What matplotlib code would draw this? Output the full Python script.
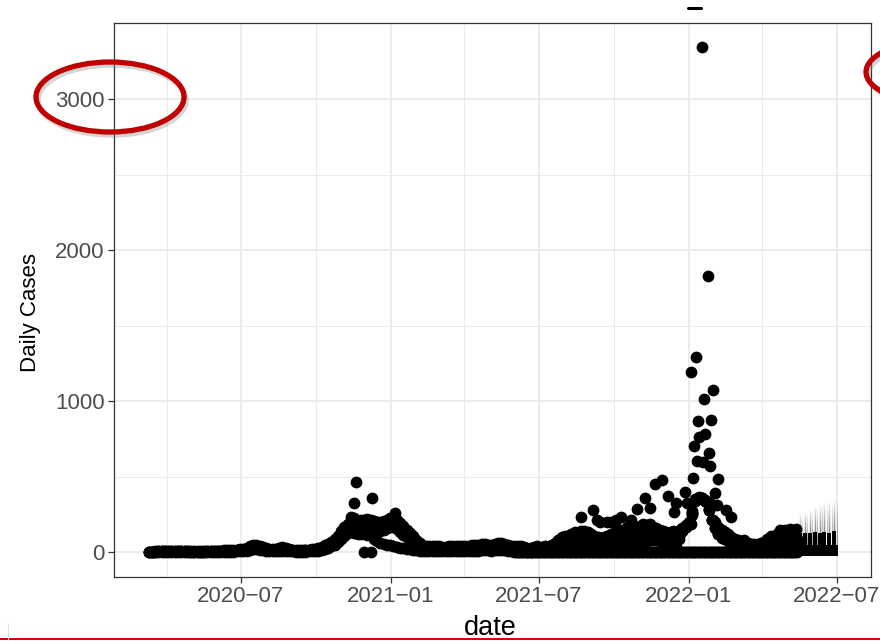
import matplotlib
matplotlib.use("Agg")
import matplotlib.pyplot as plt
from matplotlib.patches import Ellipse
import numpy as np
import pandas as pd

plt.rcParams['font.family'] = ['Liberation Sans', 'DejaVu Sans']

# ---------------- data ----------------
# Period A: one value every 4 days starting 2020-03-10 (three overlapping bands)
start_a = "2020-03-10"
upper_a = [0, 2, 5, 8, 10, 10, 10, 10, 8, 8,
           10, 8, 8, 6, 6, 5, 5, 6, 8, 8,
           10, 10, 10, 12, 12, 15, 15, 18, 20, 22,
           28, 38, 45, 46, 40, 32, 25, 22, 20, 22,
           28, 33, 28, 22, 18, 15, 15, 15, 18, 18,
           20, 20, 25, 35, 45, 55, 66, 85, 110, 140,
           166, 190, 232, 225, 205, 210, 215, 219, 210, 205,
           199, 199, 205, 215, 225, 232, 215, 195, 172, 150,
           130, 106, 80, 60, 40, 40, 38, 40, 40, 38,
           35, 35, 38, 40, 40, 38, 40, 42, 42, 45,
           45, 50, 55, 55, 50, 50, 55, 60, 64, 55,
           45, 40, 40, 40, 38, 35, 30, 30, 35, 40]
mid_a = [0, 1, 3, 5, 6, 6, 6, 6, 5, 5,
         6, 5, 5, 4, 4, 3, 3, 4, 5, 5,
         6, 6, 6, 8, 8, 10, 10, 12, 14, 15,
         18, 25, 30, 32, 28, 22, 18, 15, 14, 15,
         18, 20, 18, 14, 12, 10, 10, 10, 12, 12,
         14, 14, 18, 25, 32, 42, 50, 65, 85, 105,
         130, 150, 175, 165, 160, 165, 170, 160, 150, 140,
         135, 140, 150, 160, 165, 170, 155, 135, 115, 100,
         85, 70, 55, 40, 28, 25, 22, 25, 25, 22,
         20, 20, 22, 25, 25, 22, 25, 28, 28, 30,
         30, 32, 35, 35, 32, 32, 35, 40, 42, 35,
         28, 25, 25, 25, 22, 20, 18, 18, 22, 25]
lower_a = [0, 0, 0, 1, 2, 2, 2, 2, 1, 1,
           2, 1, 1, 0, 0, 0, 0, 1, 1, 1,
           2, 2, 2, 3, 3, 4, 4, 5, 6, 8,
           10, 15, 20, 20, 18, 15, 10, 8, 8, 8,
           10, 10, 8, 5, 5, 3, 3, 3, 3, 5,
           5, 5, 8, 12, 20, 30, 40, 50, 70, 90,
           106, 125, 139, 125, 120, 119, 0, 115, 0, 90,
           75, 60, 55, 50, 45, 40, 35, 30, 25, 20,
           20, 15, 12, 10, 8, 8, 6, 8, 8, 6,
           5, 5, 6, 8, 8, 6, 8, 8, 8, 10,
           10, 10, 12, 15, 12, 10, 12, 15, 15, 12,
           8, 6, 8, 8, 6, 5, 4, 4, 6, 8]

# Period B: one value every 4 days starting 2021-07-01
start_b = "2021-07-01"
upper_b = [25, 35, 42, 38, 45, 60, 80, 100, 108, 110,
           120, 132, 130, 140, 141, 135, 120, 110, 100, 97,
           100, 110, 120, 130, 141, 145, 150, 166, 160, 170,
           166, 175, 185, 180, 185, 170, 160, 150, 141, 135,
           130, 141, 125, 140, 160, 180, 200, 270, 350, 365,
           360, 345, 290, 215, 200, 170, 150, 135, 120, 100,
           90, 80, 75, 70, 60, 55, 53, 55, 60, 70,
           90, 110, 100, 120, 150, 130, 120, 155, 120, 90]
mid_b = [12, 18, 25, 22, 25, 35, 50, 60, 60, 65,
         70, 80, 80, 85, 85, 80, 75, 70, 65, 60,
         60, 65, 70, 75, 85, 90, 95, 105, 100, 110,
         110, 120, 125, 125, 125, 120, 115, 110, 100, 95,
         90, 95, 70, 110, 140, 170, 195, 260, 340, 360,
         360, 340, 280, 210, 160, 120, 100, 90, 80, 65,
         50, 55, 45, 45, 40, 35, 32, 35, 38, 45,
         55, 70, 65, 80, 95, 90, 85, 100, 75, 60]
low_b = [5, 8, 10, 8, 10, 12, 15, 18, 18, 20,
         22, 25, 25, 28, 28, 25, 22, 20, 20, 18,
         18, 20, 22, 25, 28, 30, 35, 40, 45, 55,
         65, 75, 75, 75, 78, 80, 80, 75, 60, 50,
         40, 35, 35, 85, 140, 170, 195, 260, 340, 360,
         360, 340, 280, 210, 160, 120, 95, 85, 75, 50,
         25, 25, 20, 22, 20, 18, 15, 18, 20, 25,
         30, 35, 35, 40, 45, 45, 40, 50, 40, 30]

# days reported as zero
zero_start, zero_end = "2021-06-01", "2022-05-13"

# isolated high points
spike_dates = ["2020-11-17", "2020-11-19", "2020-12-09", "2021-01-06",
               "2021-08-22", "2021-09-05", "2021-09-10", "2021-09-14", "2021-09-22",
               "2021-09-28", "2021-10-04", "2021-10-10", "2021-10-22", "2021-10-29",
               "2021-11-08", "2021-11-14", "2021-11-20", "2021-11-29", "2021-12-06",
               "2021-12-14", "2021-12-16", "2021-12-22", "2021-12-27", "2021-12-30",
               "2022-01-03", "2022-01-04", "2022-01-05", "2022-01-06", "2022-01-07",
               "2022-01-10", "2022-01-11", "2022-01-11", "2022-01-12", "2022-01-13",
               "2022-01-17", "2022-01-18", "2022-01-19", "2022-01-21", "2022-01-24",
               "2022-01-25", "2022-01-26", "2022-01-27", "2022-01-28", "2022-01-31",
               "2022-01-31", "2022-02-02", "2022-02-04", "2022-02-06", "2022-02-09",
               "2022-02-15", "2022-02-21", "2022-03-09", "2022-04-29", "2022-05-12"]
spike_vals = [326, 464, 360, 260,
              234, 278, 212, 200, 200,
              200, 212, 234, 212, 283,
              360, 290, 450, 480, 370,
              267, 327, 157, 400, 327,
              1190, 190, 245, 488, 702,
              1290, 351, 605, 868, 764,
              3342, 594, 1011, 781, 1828,
              333, 654, 570, 874, 1073,
              212, 395, 311, 483, 124,
              278, 234, 80, 150, 155]

# hatched tail at the end of the series: teeth and the valleys between them
teeth_dates = ["2022-05-17", "2022-05-23", "2022-05-29", "2022-06-04",
               "2022-06-10", "2022-06-16", "2022-06-22", "2022-06-28"]
teeth_vals = [125, 130, 125, 135, 130, 135, 130, 140]
teeth_fade = [250, 265, 280, 300, 310, 320, 330, 345]
valley_dates = ["2022-05-14", "2022-05-20", "2022-05-26", "2022-06-01",
                "2022-06-07", "2022-06-13", "2022-06-19", "2022-06-25", "2022-07-01"]
valley_vals = [90, 45, 45, 45, 45, 45, 45, 45, 45]
valley_fade = [210, 230, 250, 270, 285, 300, 310, 320, 330]

x_ticks = ["2020-07-01", "2021-01-01", "2021-07-01", "2022-01-01", "2022-07-01"]
x_tick_labels = ["2020\u221207", "2021\u221201", "2021\u221207", "2022\u221201", "2022\u221207"]
x_minor = ["2020-04-01", "2020-10-01", "2021-04-01", "2021-10-01", "2022-04-01"]
y_ticks = [0, 1000, 2000, 3000]
y_minor = [500, 1500, 2500, 3500]

# ---------------- figure ----------------
W, H = 880, 641
fig = plt.figure(figsize=(W / 100, H / 100), dpi=100)
fig.patch.set_facecolor("white")

L, R, T, B = 114.3, 871.0, 22.7, 576.7
ax = fig.add_axes([L / W, 1 - B / H, (R - L) / W, (B - T) / H])
ax.set_facecolor("white")

dates_a = pd.date_range(start_a, periods=len(upper_a), freq="4D")
dates_b = pd.date_range(start_b, periods=len(upper_b), freq="4D")
zero_dates = pd.date_range(zero_start, zero_end, freq="2D")

msize = 72
pt = dict(s=msize, c="black", linewidths=0, zorder=3)
ax.scatter(dates_a, lower_a, **pt)
ax.scatter(dates_a, mid_a, **pt)
ax.scatter(dates_a, upper_a, **pt)
ax.scatter(zero_dates, np.zeros(len(zero_dates)), **pt)
ax.scatter(dates_b, low_b, **pt)
ax.scatter(dates_b, mid_b, **pt)
ax.scatter(dates_b, upper_b, **pt)
ax.scatter(pd.to_datetime(spike_dates), spike_vals, **pt)

# tail: solid zig-zag block with faint streaks above
t_d = pd.to_datetime(teeth_dates)
t_v = np.array(teeth_vals, dtype=float)
t_f = np.array(teeth_fade, dtype=float)
v_d = pd.to_datetime(valley_dates)
v_v = np.array(valley_vals, dtype=float)
v_f = np.array(valley_fade, dtype=float)
nfade = 8
for k in range(nfade):
    ax.vlines(t_d, t_v, t_v + (t_f - t_v) * (k + 1) / nfade, colors="black",
              lw=1.0, alpha=0.07, zorder=2)
    ax.vlines(v_d, v_v, v_v + (v_f - v_v) * (k + 1) / nfade, colors="black",
              lw=0.8, alpha=0.06, zorder=2)
ax.bar(v_d, v_v + 25, width=pd.Timedelta(days=4.0), bottom=-25, color="black",
       linewidth=0, zorder=3)
ax.bar(t_d, t_v + 25, width=pd.Timedelta(days=4.9), bottom=-25, color="black",
       linewidth=0, zorder=3)

ax.set_xlim(pd.Timestamp("2020-01-28"), pd.Timestamp("2022-08-12"))
ax.set_ylim(-162, 3505)

ax.set_xticks(pd.to_datetime(x_ticks))
ax.set_xticklabels(x_tick_labels)
ax.set_xticks(pd.to_datetime(x_minor), minor=True)
ax.set_yticks(y_ticks)
ax.set_yticklabels([str(v) for v in y_ticks])
ax.set_yticks(y_minor, minor=True)

ax.set_axisbelow(True)
ax.grid(which="major", color="#EBEBEB", lw=1.3, zorder=0)
ax.grid(which="minor", color="#EBEBEB", lw=0.7, zorder=0)

ax.tick_params(which="major", length=4, width=0.9, color="#333333",
               labelcolor="#4D4D4D", labelsize=16, pad=3)
ax.tick_params(which="minor", length=0)
for s in ax.spines.values():
    s.set_color("#333333")
    s.set_linewidth(0.9)
    s.set_zorder(5)

ax.set_xlabel("date", fontsize=19.5, color="black", va="center")
ax.xaxis.set_label_coords(0.497, (B - 628) / (B - T))
ax.set_ylabel("Daily Cases", fontsize=16, color="black", va="center")
ax.yaxis.set_label_coords((31 - L) / (R - L), (B - 313) / (B - T))

# ---------------- overlay annotations (pixel coordinates) ----------------
ov = fig.add_axes([0, 0, 1, 1], zorder=10)
ov.set_xlim(0, W)
ov.set_ylim(H, 0)
ov.axis("off")
ov.patch.set_alpha(0)

for (cx, cy, ew, eh) in [(110, 97, 148, 70), (942, 72, 152, 64)]:
    ov.add_patch(Ellipse((cx + 2, cy + 3), ew, eh, fill=False, ec="#888888",
                         lw=4, alpha=0.35))
    ov.add_patch(Ellipse((cx, cy), ew, eh, fill=False, ec="#C00000", lw=3.8))

ov.plot([0, W], [638.5, 638.5], color="#D00000", lw=1.4, solid_capstyle="butt")
ov.plot([7.5, 7.5], [624, 641], color="#E2E2E2", lw=0.8)
ov.plot([688, 701], [7.5, 7.5], color="black", lw=2.2, solid_capstyle="round")

fig.savefig("out.png", dpi=100, facecolor="white")
